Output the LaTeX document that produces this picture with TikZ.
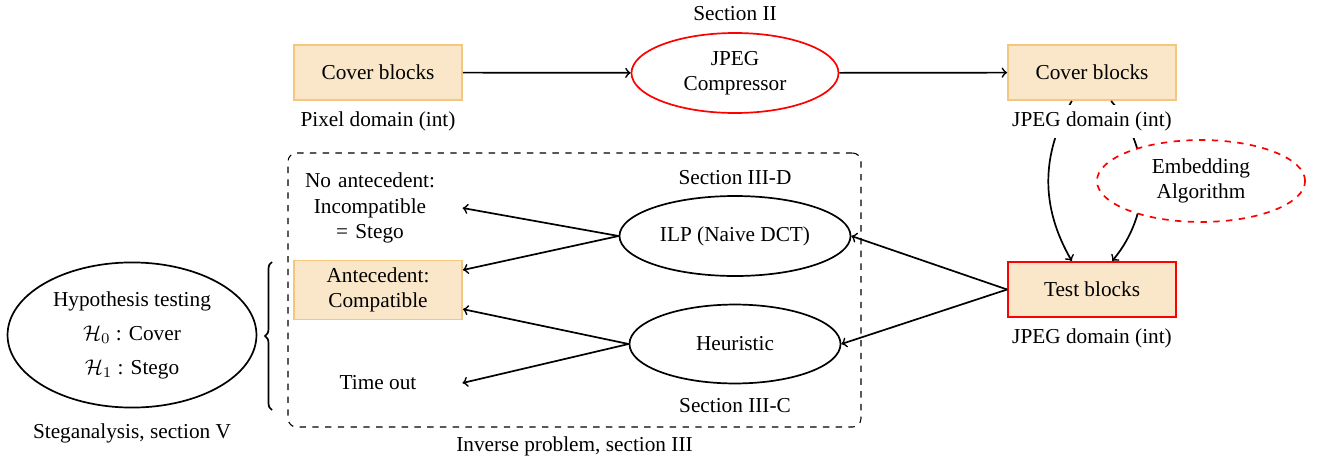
\documentclass[tikz,border=0pt]{standalone}
\usepackage{amsmath}
\usepackage{amssymb}
\usepackage{fontspec}
\setmainfont{Liberation Serif}
\usetikzlibrary{shapes.geometric,positioning,decorations.pathreplacing}
\definecolor{blockfill}{RGB}{250,230,200}
\definecolor{blockline}{RGB}{245,198,125}

\begin{document}
\begin{tikzpicture}[x=0.47pt,y=-0.47pt,
    block/.style={draw=blockline,fill=blockfill,thick,minimum width=79pt,minimum height=26pt,align=center},
    proc/.style={ellipse,draw,thick,inner sep=0pt,align=center},
    lbl/.style={fill=white}]
    \useasboundingbox (0,0) rectangle (1322,462);

    % Compression chain
    \node[block] (pix) at (378,72.5) {Cover blocks};
    \node[proc,draw=red,minimum width=97.3pt,minimum height=37.6pt] (jpeg) at (735,73) {JPEG\\Compressor};
    \node[block] (cov) at (1092,72.5) {Cover blocks};
    \node[block,draw=red] (test) at (1092,289.5) {Test blocks};
    \node[above=2pt of jpeg] (sec2) {Section II};

    \path[->,thick]
        (pix) edge (jpeg)
        (jpeg) edge (cov)
        ([xshift=-9.5pt]cov.south) edge[bend right=30] ([xshift=-9.5pt]test.north)
        ([xshift=9pt]cov.south) edge[bend left=40] ([xshift=9.5pt]test.north);

    \node[lbl,below=1.5pt of pix] (pixlbl) {Pixel domain (int)};
    \node[lbl,below=1.5pt of cov] (covlbl) {JPEG domain (int)};
    \node[lbl,below=1.5pt of test] (testlbl) {JPEG domain (int)};
    \node[proc,dashed,draw=red,fill=white,minimum width=97.8pt,minimum height=38.5pt] (emb) at (1201,181) {Embedding\\Algorithm};

    % Inverse problem
    \node[draw,dashed,line width=0.5pt,rounded corners=4pt,minimum width=269.3pt,minimum height=128.8pt] (inv) at (574.5,290) {};
    \node[below=1pt of inv] (invlbl) {Inverse problem, section III};
    \node[proc,minimum width=108.6pt,minimum height=37.6pt] (ilp) at (735,236) {ILP (Naive DCT)};
    \node[proc,minimum width=99.2pt,minimum height=37.1pt] (heur) at (735,344) {Heuristic};
    \node[above=1.5pt of ilp] (sec3d) {Section III-D};
    \node[below=3pt of heur] (sec3c) {Section III-C};

    \node[align=center,text width=80pt] (noant) at (370,208) {No antecedent:\\Incompatible\\= Stego};
    \node[block] (ant) at (378,290) {Antecedent:\\Compatible};
    \node[minimum width=79pt] (tout) at (378,383) {Time out};

    \path[->,thick]
        (ilp.west) edge (noant.east)
        (ilp.west) edge ([yshift=9.4pt]ant.east)
        (heur.west) edge ([yshift=-9pt]ant.east)
        (heur.west) edge (tout.east)
        (test.west) edge (ilp.east)
        (test.west) edge (heur.east);

    % Steganalysis
    \node[proc,minimum width=117pt,minimum height=68.2pt] (hyp) at (132,335) {Hypothesis testing\\[4pt] $\mathcal{H}_0$ : Cover\\[4pt] $\mathcal{H}_1$ : Stego};
    \node[below=3.5pt of hyp] (hyplbl) {Steganalysis, section V};
    \draw[thick,decorate,decoration={brace,amplitude=3.3pt}] (272,410) -- (272,262);
\end{tikzpicture}
\end{document}
